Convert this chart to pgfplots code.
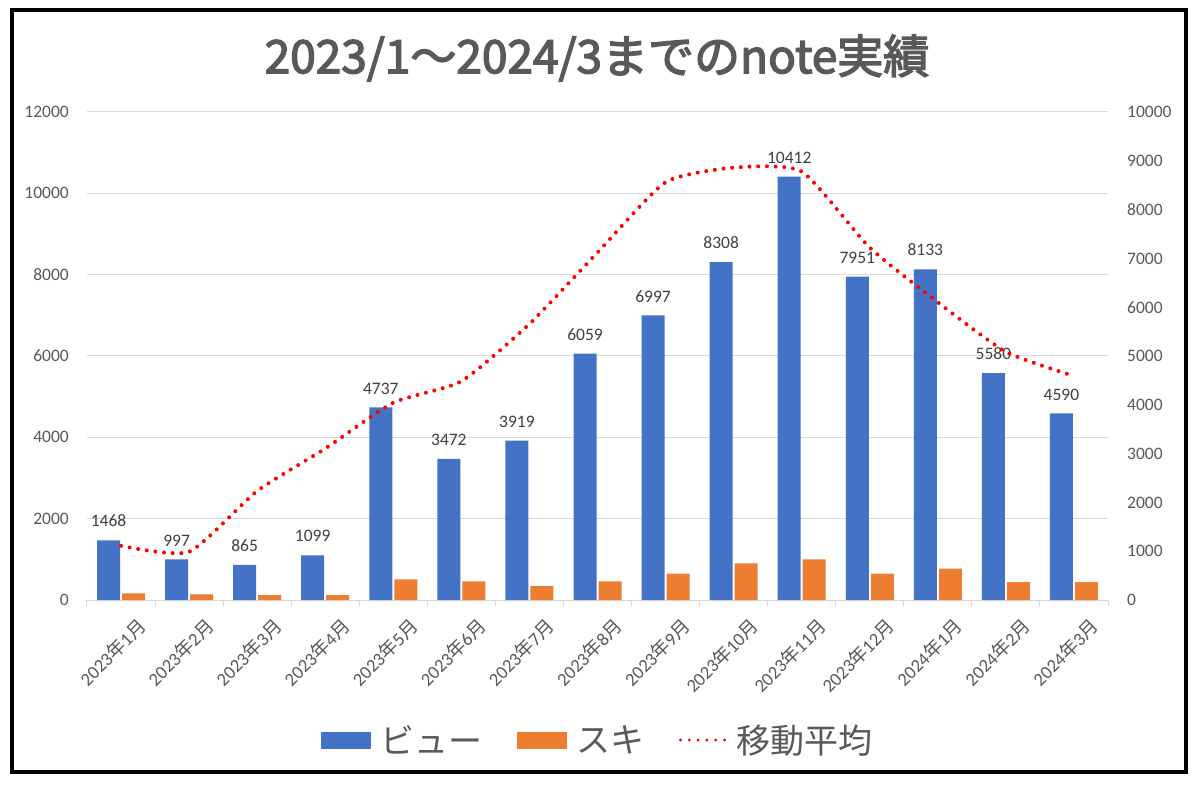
\documentclass[border=0pt]{standalone}
\usepackage{pgfplots}
\pgfplotsset{compat=1.18}
\usepackage{fontspec}
\setmainfont{Carlito}
\newfontfamily\jp{Noto Sans CJK JP}
\newfontfamily\jpm[FakeBold=3]{Noto Sans CJK JP}
\definecolor{vblue}{HTML}{4472C4}
\definecolor{sorange}{HTML}{ED7D31}
\definecolor{gridc}{HTML}{D9D9D9}
\definecolor{tickc}{HTML}{595959}
\definecolor{labc}{HTML}{404040}
\definecolor{mared}{HTML}{FF0000}
\begin{document}
\begin{tikzpicture}[x=1pt,y=1pt]
\useasboundingbox (0,0) rectangle (1200,788);
\fill[white] (0,0) rectangle (1200,788);
\begin{axis}[
  at={(87pt,188pt)}, anchor=south west,
  width=1021pt, height=488pt, scale only axis,
  xmin=-0.5, xmax=14.5, ymin=0, ymax=12000,
  ytick={0,2000,...,12000},
  scaled y ticks=false,
  /pgf/number format/1000 sep={}, /pgf/number format/assume math mode=true,
  ymajorgrids, grid style={draw=gridc, line width=1pt},
  axis y line*=left, y axis line style={draw=none},
  axis x line*=bottom, x axis line style={draw=gridc, line width=1pt},
  xtick={0,...,14},
  xticklabels={2023{\jp 年}1{\jp 月},2023{\jp 年}2{\jp 月},2023{\jp 年}3{\jp 月},2023{\jp 年}4{\jp 月},2023{\jp 年}5{\jp 月},2023{\jp 年}6{\jp 月},2023{\jp 年}7{\jp 月},2023{\jp 年}8{\jp 月},2023{\jp 年}9{\jp 月},2023{\jp 年}10{\jp 月},2023{\jp 年}11{\jp 月},2023{\jp 年}12{\jp 月},2024{\jp 年}1{\jp 月},2024{\jp 年}2{\jp 月},2024{\jp 年}3{\jp 月}},
  minor xtick={-0.5,0.5,...,14.5},
  major tick length=0pt, minor tick length=6pt, tick align=outside,
  major tick style={draw=none},
  minor x tick style={draw=gridc, line width=1pt},
  y tick label style={font=\fontsize{17.5}{20}\selectfont, text=tickc, anchor=east, inner sep=0pt, xshift=-18pt},
  x tick label style={font=\fontsize{18.5}{20}\selectfont, text=tickc, rotate=45, anchor=east, inner sep=0pt, xshift=-1pt, yshift=-31pt},
  legend style={at={(0.5,-0.287)}, anchor=center, draw=none, fill=none,
    font=\jp\fontsize{34}{40}\selectfont, text=tickc,
    legend columns=3,
    /tikz/every odd column/.append style={column sep=8pt},
    /tikz/every even column/.append style={column sep=32pt}},
  clip=false,
]
\addplot[ybar, fill=vblue, draw=none, bar width=23pt, bar shift=-12.5pt,
  nodes near coords,
  nodes near coords style={font=\fontsize{17.5}{20}\selectfont, text=labc, anchor=south, inner sep=0pt, yshift=13pt, xshift=-12.5pt},
  legend image code/.code={\fill[vblue] (0pt,-8.5pt) rectangle (50pt,8.5pt);}]
coordinates {(0,1468) (1,997) (2,865) (3,1099) (4,4737) (5,3472) (6,3919) (7,6059) (8,6997) (9,8308) (10,10412) (11,7951) (12,8133) (13,5580) (14,4590)};
\addlegendentry{ビュー}
\addplot[ybar, fill=sorange, draw=none, bar width=23pt, bar shift=12.5pt,
  legend image code/.code={\fill[sorange] (0pt,-8.5pt) rectangle (50pt,8.5pt);}]
coordinates {(0,160) (1,140) (2,120) (3,120) (4,510) (5,460) (6,340) (7,460) (8,650) (9,900) (10,1000) (11,650) (12,770) (13,440) (14,440)};
\addlegendentry{スキ}
\addlegendimage{legend image code/.code={\draw[mared, line width=3.2pt, dash pattern=on 0pt off 8.8pt, line cap=round] (2pt,0pt) -- (46pt,0pt);}}
\addlegendentry{移動平均}
\end{axis}
\begin{axis}[
  at={(87pt,188pt)}, anchor=south west,
  width=1021pt, height=488pt, scale only axis,
  xmin=-0.5, xmax=14.5, ymin=0, ymax=10000,
  ytick={0,1000,...,10000},
  scaled y ticks=false,
  /pgf/number format/1000 sep={}, /pgf/number format/assume math mode=true,
  axis y line*=right, y axis line style={draw=none},
  axis x line=none,
  major tick length=0pt, major tick style={draw=none},
  y tick label style={font=\fontsize{17.5}{20}\selectfont, text=tickc, anchor=west, inner sep=0pt, xshift=19pt},
  clip=false,
]
\addplot[mared, line width=4pt, dash pattern=on 0pt off 8.7pt, line cap=round, smooth, tension=0.35]
coordinates {(0,1110) (1,987) (2,2234) (3,3103) (4,4043) (5,4483) (6,5658) (7,7121) (8,8560) (9,8860) (10,8780) (11,7221) (12,6101) (13,5085) (14,4590)};
\end{axis}
\node[font=\jpm\fontsize{46}{50}\selectfont, text=tickc] at (597,730) {2023/1～2024/3までのnote実績};
\draw[line width=4pt] (12,16) rectangle (1186,778);
\end{tikzpicture}
\end{document}
